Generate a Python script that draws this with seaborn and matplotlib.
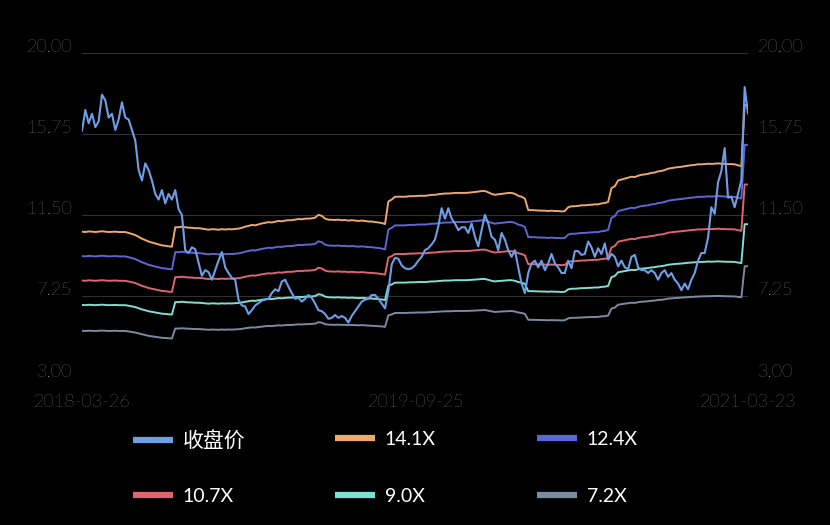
import numpy as np
import pandas as pd
import seaborn as sns
import matplotlib.pyplot as plt
from matplotlib.lines import Line2D
from matplotlib.transforms import ScaledTranslation

start_date = '2018-03-26'
mid_date = '2019-09-25'
end_date = '2021-03-23'

# close price at even steps
close_price = [
    15.9, 17.0, 16.3, 16.8, 16.1, 16.4, 17.8, 17.5, 16.6, 16.8,
    15.95, 16.5, 17.4, 16.6, 16.5, 15.95, 15.4, 13.85, 13.3, 14.2,
    13.85, 13.3, 12.6, 12.3, 12.8, 12.1, 12.6, 12.3, 12.8, 11.8,
    11.5, 9.65, 9.5, 9.8, 9.7, 9.0, 8.3, 8.6, 8.5, 8.1,
    8.6, 9.1, 9.55, 8.75, 8.45, 8.2, 8.1, 7.05, 6.75, 6.7,
    6.3, 6.5, 6.75, 6.87, 7.0, 7.05, 7.1, 7.4, 7.6, 7.5,
    8.0, 8.1, 7.73, 7.4, 7.1, 7.15, 6.95, 7.1, 7.3, 7.15,
    6.85, 6.5, 6.45, 6.3, 6.05, 6.1, 6.25, 6.1, 6.2, 6.1,
    5.85, 6.2, 6.45, 6.7, 6.95, 7.05, 7.1, 7.3, 7.3, 7.1,
    6.85, 6.6, 7.5, 8.9, 9.25, 9.2, 8.85, 8.7, 8.65, 8.7,
    8.85, 9.1, 9.3, 9.65, 9.75, 9.95, 10.2, 10.9, 11.85, 11.3,
    11.85, 11.3, 11.05, 10.7, 10.85, 10.85, 10.55, 11.05, 10.35, 9.85,
    10.7, 11.5, 11.05, 10.35, 10.2, 9.65, 10.55, 10.2, 9.65, 9.3,
    9.65, 8.75, 7.9, 7.4, 8.45, 8.95, 9.1, 8.75, 9.1, 8.6,
    8.95, 9.45, 8.95, 8.75, 8.45, 8.45, 9.1, 8.7, 9.6, 9.6,
    9.4, 9.45, 10.1, 9.8, 9.3, 9.75, 9.45, 10.0, 9.15, 9.45,
    9.3, 8.8, 9.1, 8.75, 8.65, 9.3, 9.4, 8.75, 8.6, 8.6,
    8.45, 8.6, 8.45, 8.1, 8.45, 8.6, 8.25, 8.45, 8.1, 7.9,
    7.55, 7.9, 7.6, 8.1, 8.45, 9.1, 9.5, 9.5, 10.3, 11.9,
    11.55, 13.2, 13.8, 15.0, 12.4, 12.45, 11.9, 12.6, 13.3, 18.2,
    16.8,
]

# the 14.1X band as read; the other bands share its shape (pe * eps)
band_141 = [
    10.62, 10.6, 10.63, 10.62, 10.6, 10.62, 10.64, 10.62, 10.6, 10.61,
    10.62, 10.6, 10.6, 10.6, 10.55, 10.5, 10.44, 10.35, 10.25, 10.18,
    10.1, 10.05, 10.0, 9.95, 9.9, 9.88, 9.85, 9.83, 10.85, 10.85,
    10.88, 10.85, 10.83, 10.82, 10.8, 10.8, 10.78, 10.75, 10.72, 10.75,
    10.74, 10.72, 10.75, 10.73, 10.75, 10.74, 10.76, 10.78, 10.82, 10.88,
    10.92, 10.97, 10.95, 11.0, 11.05, 11.08, 11.12, 11.1, 11.14, 11.18,
    11.16, 11.2, 11.22, 11.22, 11.25, 11.28, 11.27, 11.3, 11.3, 11.32,
    11.35, 11.5, 11.45, 11.3, 11.25, 11.24, 11.23, 11.25, 11.22, 11.23,
    11.2, 11.22, 11.2, 11.18, 11.2, 11.18, 11.15, 11.15, 11.12, 11.1,
    11.07, 11.02, 12.2, 12.3, 12.45, 12.45, 12.45, 12.45, 12.47, 12.48,
    12.48, 12.5, 12.5, 12.5, 12.52, 12.55, 12.55, 12.58, 12.6, 12.62,
    12.62, 12.63, 12.65, 12.65, 12.65, 12.65, 12.66, 12.68, 12.7, 12.72,
    12.75, 12.75, 12.68, 12.6, 12.55, 12.58, 12.6, 12.62, 12.65, 12.65,
    12.6, 12.5, 12.45, 12.35, 11.75, 11.75, 11.74, 11.73, 11.72, 11.72,
    11.7, 11.72, 11.7, 11.7, 11.68, 11.7, 11.9, 11.95, 11.95, 11.97,
    12.0, 12.0, 12.02, 12.03, 12.05, 12.05, 12.1, 12.12, 12.18, 12.9,
    13.0, 13.3, 13.35, 13.4, 13.45, 13.5, 13.48, 13.55, 13.6, 13.62,
    13.65, 13.7, 13.72, 13.78, 13.8, 13.85, 13.92, 13.95, 13.98, 14.0,
    14.02, 14.05, 14.08, 14.1, 14.12, 14.15, 14.15, 14.16, 14.18, 14.17,
    14.18, 14.2, 14.18, 14.17, 14.16, 14.16, 14.15, 14.1, 14.05, 17.25,
    17.25,
]

multiples = [14.1, 12.4, 10.7, 9.0, 7.2]
band_labels = ['14.1X', '12.4X', '10.7X', '9.0X', '7.2X']
band_colors = ['#eca86e', '#5c67d6', '#de6470', '#80ded3', '#7c8aa2']
price_label = '收盘价'
price_color = '#6e9ee6'
y_ticks = [3.00, 7.25, 11.50, 15.75, 20.00]

dates = pd.date_range(start_date, end_date, periods=len(close_price))
eps = np.array(band_141) / multiples[0]

parts = []
for m, lab in zip(multiples, band_labels):
    parts.append(pd.DataFrame({'date': dates, 'value': eps * m, 'series': lab}))
bands = pd.concat(parts, ignore_index=True)
price = pd.DataFrame({'date': dates, 'value': close_price})

sns.set_theme(style='dark')
plt.rcParams['font.family'] = ['Lato', 'Noto Sans CJK SC', 'DejaVu Sans']

fig = plt.figure(figsize=(8.3, 5.25), dpi=100, facecolor='black')
ax = fig.add_axes([0.0988, 0.2819, 0.8024, 0.6177])
ax.set_facecolor('black')

sns.lineplot(data=bands, x='date', y='value', hue='series', hue_order=band_labels,
             palette=band_colors, linewidth=1.4, estimator=None, legend=False, ax=ax)
sns.lineplot(data=price, x='date', y='value', color=price_color, linewidth=1.5,
             estimator=None, ax=ax)

ax.set_xlim(dates[0], dates[-1])
ax.set_ylim(3, 20)
ax.set_yticks(y_ticks)
ax.set_yticklabels([f'{v:.2f}' for v in y_ticks])
ax.set_xticks(pd.to_datetime([start_date, mid_date, dates[-1]]))
ax.set_xticklabels([start_date, mid_date, end_date])
ax.set_xlabel('')
ax.set_ylabel('')
ax.grid(axis='y', color='#303030', linewidth=0.8)
ax.grid(axis='x', visible=False)
for s in ax.spines.values():
    s.set_visible(False)
ax.tick_params(axis='y', length=0, pad=7, labelsize=13, labelcolor='#b8b8b8',
               labelleft=True, labelright=True)
ax.tick_params(axis='x', length=0, pad=12, labelsize=13, labelcolor='#b8b8b8')
for lab in ax.get_xticklabels():
    lab.set_fontweight('light')

# labels sit a bit above their grid lines
shift = ScaledTranslation(0, 0.07, fig.dpi_scale_trans)
for t in ax.yaxis.get_major_ticks():
    t.label1.set_fontweight('light')
    t.label2.set_fontweight('light')
    t.label1.set_transform(t.label1.get_transform() + shift)
    t.label2.set_transform(t.label2.get_transform() + shift)

# legend: 3 columns x 2 rows under the chart
colour_of = dict(zip(band_labels, band_colors))
colour_of[price_label] = price_color
columns = [[price_label, '10.7X'], ['14.1X', '9.0X'], ['12.4X', '7.2X']]
col_x = [133, 335, 537]
col_gap = [1.9, 2.05, 2.05]
for names, x, gap in zip(columns, col_x, col_gap):
    hs = [Line2D([], [], color=colour_of[n], linewidth=4.5, solid_capstyle='butt') for n in names]
    leg = fig.legend(hs, names, loc='upper left', bbox_to_anchor=(x / 830, 1 - 431 / 525),
                     frameon=False, fontsize=14, handlelength=2.05, handletextpad=0.5,
                     labelspacing=gap, borderpad=0, borderaxespad=0, labelcolor='white')
    for txt in leg.get_texts():
        if txt.get_text() == price_label:
            txt.set_fontsize(15)

fig.savefig('out.png', dpi=100, facecolor='black')
